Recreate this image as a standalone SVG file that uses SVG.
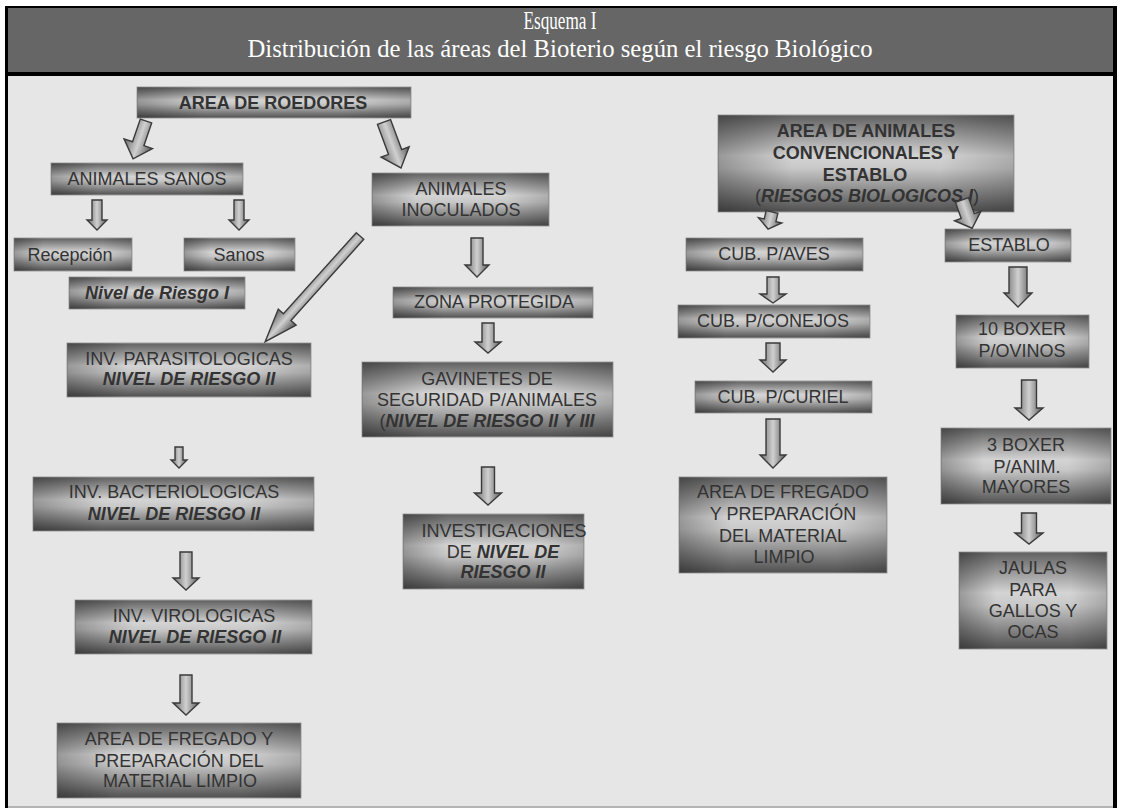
<svg xmlns="http://www.w3.org/2000/svg" width="1121" height="810" viewBox="0 0 1121 810">
<defs>
<linearGradient id="gv" x1="0" y1="0" x2="0" y2="1">
<stop offset="0" stop-color="#606060"/>
<stop offset="0.42" stop-color="#d4d4d4"/>
<stop offset="0.55" stop-color="#c8c8c8"/>
<stop offset="1" stop-color="#505050"/>
</linearGradient>
<linearGradient id="gh" x1="0" y1="0" x2="1" y2="0">
<stop offset="0" stop-color="#000" stop-opacity="0.28"/>
<stop offset="0.25" stop-color="#000" stop-opacity="0"/>
<stop offset="0.75" stop-color="#000" stop-opacity="0"/>
<stop offset="1" stop-color="#000" stop-opacity="0.18"/>
</linearGradient>
<linearGradient id="ga" x1="0" y1="0" x2="1" y2="0">
<stop offset="0" stop-color="#666"/>
<stop offset="0.5" stop-color="#d0d0d0"/>
<stop offset="1" stop-color="#575757"/>
</linearGradient>
<style>
.box{fill:url(#gv);stroke:#a0a0a0;stroke-width:1}
.shade{fill:url(#gh)}
.t{font-family:"Liberation Sans",Arial,sans-serif;font-size:18px;fill:#333;text-anchor:middle}
.b{font-weight:bold}
.bi{font-weight:bold;font-style:italic}
.arr{fill:url(#ga);stroke:#3a3a3a;stroke-width:1.4}
.title{font-family:"Liberation Serif","Times New Roman",serif;fill:#fff;text-anchor:middle}
</style>
</defs>

<!-- frame -->
<rect x="5" y="6" width="1112" height="802" fill="#000"/>
<rect x="8" y="8" width="1105" height="64" fill="#666"/>
<rect x="8" y="76" width="1105" height="730" fill="#e6e6e6"/>
<rect x="8" y="806" width="1105" height="2" fill="#b4b4b4"/>
<text class="title" x="560" y="29" font-size="26" textLength="73" lengthAdjust="spacingAndGlyphs">Esquema I</text>
<text class="title" x="560" y="57" font-size="25" textLength="625" lengthAdjust="spacingAndGlyphs">Distribución de las áreas del Bioterio según el riesgo Biológico</text>

<g id="n-roedores"><rect class="box" x="137" y="87" width="274" height="31"/><rect class="shade" x="137" y="87" width="274" height="31"/><text class="t b" x="273" y="109">AREA DE ROEDORES</text></g>
<g id="n-sanos-area"><rect class="box" x="51" y="163" width="192" height="32"/><rect class="shade" x="51" y="163" width="192" height="32"/><text class="t" x="147" y="185">ANIMALES SANOS</text></g>
<g id="n-recepcion"><rect class="box" x="14" y="238" width="118" height="33"/><rect class="shade" x="14" y="238" width="118" height="33"/><text class="t" x="70" y="261">Recepción</text></g>
<g id="n-sanos"><rect class="box" x="184" y="238" width="111" height="33"/><rect class="shade" x="184" y="238" width="111" height="33"/><text class="t" x="239" y="261">Sanos</text></g>
<g id="n-nivel1"><rect class="box" x="69" y="277" width="176" height="32"/><rect class="shade" x="69" y="277" width="176" height="32"/><text class="t bi" x="157" y="299">Nivel de Riesgo I</text></g>
<g id="n-inoculados"><rect class="box" x="372" y="173" width="177" height="53"/><rect class="shade" x="372" y="173" width="177" height="53"/><text class="t" x="461" y="195">ANIMALES</text><text class="t" x="461" y="216">INOCULADOS</text></g>
<g id="n-zona"><rect class="box" x="393" y="287" width="200" height="31"/><rect class="shade" x="393" y="287" width="200" height="31"/><text class="t" x="494" y="308">ZONA PROTEGIDA</text></g>
<g id="n-gavinetes"><rect class="box" x="362" y="362" width="251" height="75"/><rect class="shade" x="362" y="362" width="251" height="75"/><text class="t" x="487" y="385">GAVINETES DE</text><text class="t" x="487" y="406">SEGURIDAD P/ANIMALES</text><text class="t" x="487" y="427">(<tspan class="bi">NIVEL DE RIESGO II Y III</tspan></text></g>
<g id="n-investigaciones"><rect class="box" x="403" y="514" width="181" height="75"/><rect class="shade" x="403" y="514" width="181" height="75"/><text class="t" x="504" y="537">INVESTIGACIONES</text><text class="t" x="503" y="558">DE <tspan class="bi">NIVEL DE</tspan></text><text class="t bi" x="503" y="578">RIESGO II</text></g>
<g id="n-parasit"><rect class="box" x="67" y="343" width="244" height="54"/><rect class="shade" x="67" y="343" width="244" height="54"/><text class="t" x="189" y="365">INV. PARASITOLOGICAS</text><text class="t bi" x="189" y="385">NIVEL DE RIESGO II</text></g>
<g id="n-bacter"><rect class="box" x="33" y="477" width="281" height="54"/><rect class="shade" x="33" y="477" width="281" height="54"/><text class="t" x="174" y="498">INV. BACTERIOLOGICAS</text><text class="t bi" x="174" y="520">NIVEL DE RIESGO II</text></g>
<g id="n-viro"><rect class="box" x="75" y="600" width="237" height="54"/><rect class="shade" x="75" y="600" width="237" height="54"/><text class="t" x="194" y="622">INV. VIROLOGICAS</text><text class="t bi" x="195" y="643">NIVEL DE RIESGO II</text></g>
<g id="n-fregado-l"><rect class="box" x="57" y="723" width="244" height="75"/><rect class="shade" x="57" y="723" width="244" height="75"/><text class="t" x="179" y="745">AREA DE FREGADO Y</text><text class="t" x="179" y="767">PREPARACIÓN DEL</text><text class="t" x="180" y="787">MATERIAL LIMPIO</text></g>

<g id="n-convencionales"><rect class="box" x="718" y="115" width="296" height="97"/><rect class="shade" x="718" y="115" width="296" height="97"/><text class="t b" x="866" y="137">AREA DE ANIMALES</text><text class="t b" x="866" y="159">CONVENCIONALES Y</text><text class="t b" x="865" y="181">ESTABLO</text><text class="t" x="867" y="202">(<tspan class="bi">RIESGOS BIOLOGICOS I</tspan>)</text></g>
<g id="n-aves"><rect class="box" x="686" y="238" width="177" height="33"/><rect class="shade" x="686" y="238" width="177" height="33"/><text class="t" x="774" y="260">CUB. P/AVES</text></g>
<g id="n-establo"><rect class="box" x="945" y="229" width="126" height="33"/><rect class="shade" x="945" y="229" width="126" height="33"/><text class="t" x="1009" y="251">ESTABLO</text></g>
<g id="n-conejos"><rect class="box" x="678" y="305" width="192" height="33"/><rect class="shade" x="678" y="305" width="192" height="33"/><text class="t" x="773" y="327">CUB. P/CONEJOS</text></g>
<g id="n-ovinos"><rect class="box" x="956" y="315" width="133" height="53"/><rect class="shade" x="956" y="315" width="133" height="53"/><text class="t" x="1022" y="335">10 BOXER</text><text class="t" x="1022" y="357">P/OVINOS</text></g>
<g id="n-curiel"><rect class="box" x="695" y="381" width="177" height="32"/><rect class="shade" x="695" y="381" width="177" height="32"/><text class="t" x="783" y="403">CUB. P/CURIEL</text></g>
<g id="n-fregado-r"><rect class="box" x="679" y="477" width="208" height="96"/><rect class="shade" x="679" y="477" width="208" height="96"/><text class="t" x="783" y="498">AREA DE FREGADO</text><text class="t" x="783" y="520">Y PREPARACIÓN</text><text class="t" x="783" y="542">DEL MATERIAL</text><text class="t" x="784" y="563">LIMPIO</text></g>
<g id="n-mayores"><rect class="box" x="941" y="428" width="170" height="76"/><rect class="shade" x="941" y="428" width="170" height="76"/><text class="t" x="1026" y="451">3 BOXER</text><text class="t" x="1027" y="473">P/ANIM.</text><text class="t" x="1026" y="493">MAYORES</text></g>
<g id="n-jaulas"><rect class="box" x="959" y="552" width="148" height="97"/><rect class="shade" x="959" y="552" width="148" height="97"/><text class="t" x="1033" y="574">JAULAS</text><text class="t" x="1033" y="596">PARA</text><text class="t" x="1033" y="617">GALLOS Y</text><text class="t" x="1033" y="638">OCAS</text></g>

<g id="connectors">
<path class="arr" transform="translate(146,121) rotate(18.9)" d="M-6,0 H6 V24 H15 L0,40 L-15,24 H-6 Z"/>
<path class="arr" transform="translate(384,122) rotate(-20.3)" d="M-7,0 H7 V32 H15 L0,49 L-15,32 H-7 Z"/>
<path class="arr" transform="translate(360,236) rotate(41.9)" d="M-5,0 H5 V109 H12 L0,142 L-12,109 H-5 Z"/>
<path class="arr" transform="translate(772,212) rotate(13)" d="M-6,0 H6 V8.5 H12 L0,17.5 L-12,8.5 H-6 Z"/>
<path class="arr" transform="translate(962,200) rotate(-19.7)" d="M-7,0 H7 V17 H14 L0,30 L-14,17 H-7 Z"/>
<path class="arr" d="M92,200 H102 V220 H107 L97,230 L87,220 H92 Z"/>
<path class="arr" d="M234,200 H244 V220 H249 L239,230 L229,220 H234 Z"/>
<path class="arr" d="M471,238 H483 V265 H489 L477,277 L465,265 H471 Z"/>
<path class="arr" d="M482,323 H494 V342 H501 L488,353 L475,342 H482 Z"/>
<path class="arr" d="M481.5,467 H494.5 V493 H501.5 L488,505 L474.5,493 H481.5 Z"/>
<path class="arr" d="M175,447 H183 V460 H187 L179,468 L171,460 H175 Z"/>
<path class="arr" d="M180,552 H192 V578 H199 L186,590 L173,578 H180 Z"/>
<path class="arr" d="M180,675 H192 V703 H199 L186,715 L173,703 H180 Z"/>
<path class="arr" d="M767,277 H779 V294 H786 L773,303 L760,294 H767 Z"/>
<path class="arr" d="M766,343 H780 V360 H786 L773,372 L760,360 H766 Z"/>
<path class="arr" d="M766,419 H780 V455 H786 L773,468 L760,455 H766 Z"/>
<path class="arr" d="M1009,267 H1027 V293 H1032 L1018,307 L1004,293 H1009 Z"/>
<path class="arr" d="M1021.5,380 H1036.5 V408 H1043 L1029,420 L1015,408 H1021.5 Z"/>
<path class="arr" d="M1021.5,513 H1036.5 V533 H1043 L1029,544 L1015,533 H1021.5 Z"/>
</g>
</svg>
